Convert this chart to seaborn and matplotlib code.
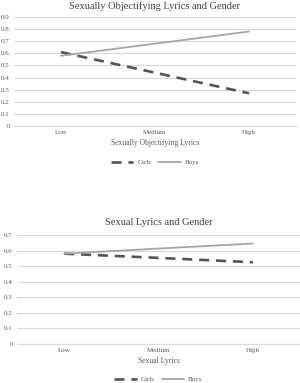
import matplotlib
matplotlib.use("Agg")
import matplotlib.pyplot as plt
import seaborn as sns
import pandas as pd
from matplotlib.lines import Line2D

levels = ["Low", "Medium", "High"]
obj_girls = [0.61, 0.44, 0.27]
obj_boys = [0.58, 0.68, 0.78]
sex_girls = [0.58, 0.553, 0.525]
sex_boys = [0.58, 0.613, 0.645]
obj_yticks = [0, 0.1, 0.2, 0.3, 0.4, 0.5, 0.6, 0.7, 0.8, 0.9]
sex_yticks = [0, 0.1, 0.2, 0.3, 0.4, 0.5, 0.6, 0.7]

sns.set_theme(style="white")
plt.rcParams['font.family'] = ['Liberation Serif', 'DejaVu Serif']

GIRL_C = "#555555"
BOY_C = "#a6a6a6"
GRID_C = "#d9d9d9"
TXT_C = "#595959"
DASH = (3.8, 2.6)

fig = plt.figure(figsize=(3.0, 3.83), dpi=100)


def panel(rect, girls, boys, yticks, title, xlabel, title_pad, leg_y):
    ax = fig.add_axes(rect)
    df = pd.DataFrame({
        "x": [0, 1, 2] * 2,
        "Value": girls + boys,
        "Gender": ["Girls"] * 3 + ["Boys"] * 3,
    })
    sns.lineplot(data=df, x="x", y="Value", hue="Gender", style="Gender",
                 palette={"Girls": GIRL_C, "Boys": BOY_C},
                 dashes={"Girls": DASH, "Boys": ""},
                 ax=ax, legend=False)
    ax.lines[0].set_linewidth(1.9)
    ax.lines[1].set_linewidth(1.3)
    ax.set_xlim(-0.5, 2.5)
    ax.set_ylim(0, yticks[-1])
    ax.set_yticks(yticks)
    ax.set_yticklabels(["0" if t == 0 else f"{t:.1f}" for t in yticks])
    ax.set_xticks([0, 1, 2])
    ax.set_xticklabels(levels)
    ax.tick_params(axis="both", length=0, labelsize=5, colors=TXT_C, pad=3)
    ax.yaxis.grid(True, color=GRID_C, linewidth=0.8)
    ax.set_axisbelow(True)
    for s in ["top", "right", "left"]:
        ax.spines[s].set_visible(False)
    ax.spines["bottom"].set_color(GRID_C)
    ax.spines["bottom"].set_linewidth(0.8)
    ax.set_xlabel(xlabel, fontsize=5.5, color=TXT_C, labelpad=3)
    ax.set_ylabel("")
    ax.set_title(title, fontsize=7.5, color="#404040", pad=title_pad)
    handles = [Line2D([], [], color=GIRL_C, lw=1.9, dashes=DASH),
               Line2D([], [], color=BOY_C, lw=1.3)]
    ax.legend(handles, ["Girls", "Boys"], loc="upper center",
              bbox_to_anchor=(0.5, leg_y), ncol=2, frameon=False,
              fontsize=5, labelcolor=TXT_C, handlelength=3.2,
              columnspacing=1.0, handletextpad=0.6)
    return ax


panel([14 / 300, 1 - 126 / 383, 282 / 300, 109 / 383], obj_girls, obj_boys,
      obj_yticks, "Sexually Objectifying Lyrics and Gender",
      "Sexually Objectifying Lyrics", 6, -0.25)
panel([17 / 300, 1 - 344 / 383, 283 / 300, 109 / 383], sex_girls, sex_boys,
      sex_yticks, "Sexual Lyrics and Gender", "Sexual Lyrics", 7, -0.24)

fig.savefig("out.png", dpi=100)
